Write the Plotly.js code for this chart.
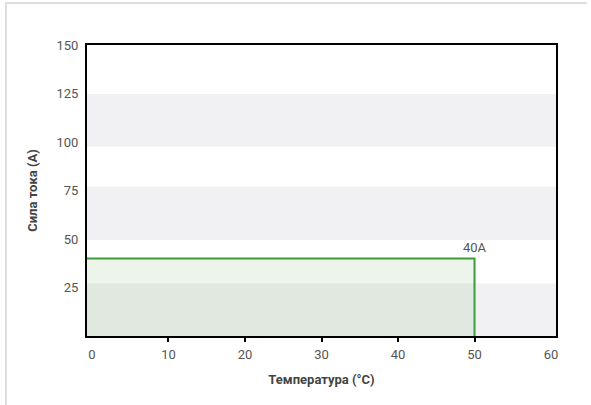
<!DOCTYPE html>
<html><head><meta charset="utf-8">
<script src="https://cdn.plot.ly/plotly-3.0.1.min.js"></script>
<style>
html,body{margin:0;padding:0;background:#fff;overflow:hidden;}
#frame{position:absolute;left:5px;top:2px;width:582px;height:420px;border-top:2px solid #dedede;border-left:2px solid #dedede;box-sizing:border-box;pointer-events:none;}
#chart{position:absolute;left:0;top:0;width:591px;height:405px;}
</style></head>
<body>
<div id="frame"></div>
<div id="chart"></div>
<script>
// Data
var tempPoints = [0, 50, 50];        // Температура (°C)
var currentPoints = [40, 40, 0];     // Сила тока (A)
var ratingLabel = '40A';
var xTicks = [0, 10, 20, 30, 40, 50, 60];
var xTickMarks = [10, 20, 30, 40, 50];
var yTicks = [25, 50, 75, 100, 125, 150];
var bandLow = [0, 49.5, 97.5];
var bandHigh = [27, 77, 124.7];

var xRange = [-0.65, 60.65];
var yRange = [0, 150];

var shapes = bandLow.map(function(b, i){
  return {type:'rect', xref:'paper', yref:'y', x0:0, x1:1, y0:b, y1:bandHigh[i],
          fillcolor:'#f1f1f3', line:{width:0}, layer:'below'};
});

// fill reaches the left edge of the plot (axis range start)
var fillX = [xRange[0]].concat(tempPoints);
var fillY = [currentPoints[0]].concat(currentPoints);

var trace = {
  x: fillX, y: fillY, type:'scatter', mode:'lines',
  fill:'tozeroy', fillcolor:'rgba(90,165,60,0.11)',
  line:{color:'#3d9a3d', width:2}, hoverinfo:'skip', cliponaxis:true
};
var tickTrace = {x:[], y:[], xaxis:'x2', yaxis:'y', type:'scatter', mode:'markers', hoverinfo:'skip'};

var tf = {family:'Roboto, sans-serif', size:13, color:'#555'};
var ttf = {family:'Roboto, sans-serif', size:13, color:'#444', weight:'bold'};

var layout = {
  width:591, height:405,
  margin:{l:87, r:35, t:45, b:69},
  paper_bgcolor:'rgba(0,0,0,0)', plot_bgcolor:'#fff',
  showlegend:false,
  font:tf,
  shapes: shapes,
  xaxis:{range:xRange, tickvals:xTicks, ticktext:xTicks.map(String),
    showgrid:false, zeroline:false, showline:true, mirror:true, linecolor:'#000', linewidth:2,
    ticks:'outside', ticklen:5, tickwidth:2, tickcolor:'rgba(0,0,0,0)',
    tickfont:tf,
    title:{text:'Температура (°C)', font:ttf, standoff:14}},
  xaxis2:{range:xRange, overlaying:'x', anchor:'y', side:'bottom',
    tickvals:xTickMarks, showticklabels:false, showgrid:false, zeroline:false, showline:false,
    ticks:'outside', ticklen:5, tickwidth:2, tickcolor:'#000'},
  yaxis:{range:yRange, tickvals:yTicks, ticktext:yTicks.map(String),
    showgrid:false, zeroline:false, showline:true, mirror:true, linecolor:'#000', linewidth:2,
    ticks:'outside', ticklen:4, tickcolor:'rgba(0,0,0,0)',
    tickfont:tf,
    title:{text:'Сила тока (A)', font:ttf, standoff:16}},
  annotations:[{x:tempPoints[1], y:currentPoints[1], xref:'x', yref:'y', text:ratingLabel,
    showarrow:false, yanchor:'bottom', xanchor:'center', yshift:1,
    font:tf}]
};

Plotly.newPlot('chart', [trace, tickTrace], layout, {displayModeBar:false, staticPlot:true});
</script>
</body></html>
